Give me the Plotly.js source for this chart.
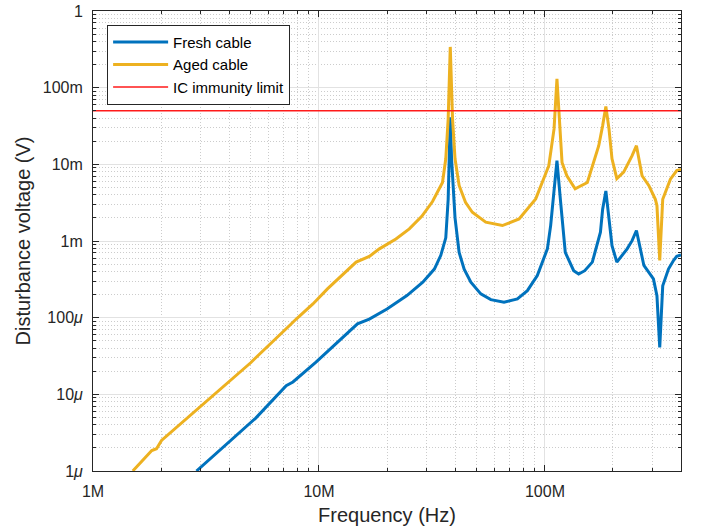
<!DOCTYPE html>
<html>
<head>
<meta charset="utf-8">
<script src="https://cdn.plot.ly/plotly-3.0.1.min.js"></script>
<style>html,body{margin:0;padding:0;background:#fff;}#chart{width:702px;height:532px;}</style>
</head>
<body>
<div id="chart"></div>
<script>
// Fresh cable
const freqFresh = [2.87e6, 5.0e6, 5.25e6, 7.16e6, 7.67e6, 9.7e6, 14.8e6, 16.7e6, 20e6, 24.5e6, 28.8e6, 32.4e6, 34.6e6, 36.4e6, 37.3e6, 37.7e6, 38.1e6, 38.6e6, 39.4e6, 40.0e6, 41.7e6, 43.9e6, 47e6, 52e6, 57.6e6, 65.9e6, 75.5e6, 83.6e6, 92.5e6, 102.5e6, 106e6, 109.7e6, 113e6, 117e6, 121e6, 123e6, 134e6, 141e6, 150e6, 162e6, 176e6, 180e6, 186e6, 192e6, 198e6, 208e6, 231e6, 243e6, 254e6, 274e6, 282e6, 302e6, 313e6, 322e6, 332e6, 352e6, 371e6, 383e6, 400e6];
const voltFresh = [1.0e-6, 4.3e-6, 4.9e-6, 1.3e-5, 1.45e-5, 2.63e-5, 8.3e-5, 9.6e-5, 1.3e-4, 1.94e-4, 2.9e-4, 4.3e-4, 6.5e-4, 1.1e-3, 3.5e-3, 0.012, 0.041, 0.012, 3.5e-3, 2.0e-3, 7.1e-4, 4.3e-4, 2.9e-4, 2.04e-4, 1.72e-4, 1.59e-4, 1.76e-4, 2.25e-4, 3.54e-4, 7.9e-4, 1.6e-3, 4.3e-3, 0.0112, 3.5e-3, 1.3e-3, 7.1e-4, 4.1e-4, 3.7e-4, 4.1e-4, 5.3e-4, 1.3e-3, 2.6e-3, 4.5e-3, 1.94e-3, 8.7e-4, 5.3e-4, 7.9e-4, 1.01e-3, 1.37e-3, 4.8e-4, 4.3e-4, 3.2e-4, 1.94e-4, 4.1e-5, 2.6e-4, 4.3e-4, 5.6e-4, 6.3e-4, 6.6e-4];

// Aged cable
const freqAged = [1.50e6, 1.82e6, 1.91e6, 2.01e6, 5.0e6, 5.25e6, 7.41e6, 7.93e6, 9.4e6, 10.9e6, 14.6e6, 16.7e6, 18.5e6, 21.9e6, 25.1e6, 28.5e6, 31.8e6, 35.2e6, 36.4e6, 37.3e6, 38.1e6, 39.0e6, 40.0e6, 41.7e6, 44.5e6, 47.7e6, 54.7e6, 64.8e6, 76.8e6, 91e6, 104e6, 109.7e6, 113e6, 115.6e6, 119e6, 125e6, 136e6, 154e6, 173e6, 180e6, 186e6, 192e6, 198e6, 208e6, 223e6, 243e6, 254e6, 269e6, 288e6, 308e6, 313e6, 322e6, 332e6, 359e6, 383e6, 400e6];
const voltAged = [1.0e-6, 1.85e-6, 1.95e-6, 2.5e-6, 2.6e-5, 3.0e-5, 7.9e-5, 9.6e-5, 1.51e-4, 2.37e-4, 5.3e-4, 6.3e-4, 7.9e-4, 1.06e-3, 1.44e-3, 2.1e-3, 3.27e-3, 5.8e-3, 0.0118, 0.039, 0.34, 0.039, 0.0118, 5.3e-3, 3.2e-3, 2.37e-3, 1.76e-3, 1.59e-3, 1.94e-3, 3.54e-3, 9.6e-3, 0.029, 0.13, 0.039, 0.0106, 7.1e-3, 4.8e-3, 5.8e-3, 0.0175, 0.032, 0.057, 0.029, 0.0118, 6.5e-3, 7.9e-3, 0.013, 0.0175, 7.1e-3, 5.3e-3, 3.5e-3, 2.9e-3, 5.6e-4, 3.5e-3, 6.4e-3, 8.3e-3, 8.6e-3];

// IC immunity limit
const limitFreq = [1e6, 4.1e8];
const limitVolt = [0.05, 0.05];

// Tick labels
const xTickVals = [1e6, 1e7, 1e8];
const xTickText = ['1M', '10M', '100M'];
const yTickVals = [1e-6, 1e-5, 1e-4, 1e-3, 1e-2, 1e-1, 1];
const yTickText = ['1<i>μ</i>', '10<i>μ</i>', '100<i>μ</i>', '1m', '10m', '100m', '1'];

function minorVals(lo, hi) {
  const out = [];
  for (let d = lo; d < hi; d++) for (let m = 2; m <= 9; m++) out.push(m * Math.pow(10, d));
  return out;
}

const axisColor = '#262626';
const traces = [
  {x: freqFresh, y: voltFresh, type: 'scatter', mode: 'lines', name: 'Fresh cable', line: {color: '#0072BD', width: 3}},
  {x: freqAged, y: voltAged, type: 'scatter', mode: 'lines', name: 'Aged cable', line: {color: '#EDB120', width: 3}},
  {x: limitFreq, y: limitVolt, type: 'scatter', mode: 'lines', name: 'IC immunity limit', line: {color: '#FF1A1A', width: 1.6}}
];

const common = {
  type: 'log', showline: true, linecolor: axisColor, linewidth: 1, mirror: 'ticks',
  ticks: 'inside', ticklen: 6, tickcolor: axisColor, tickwidth: 1,
  showgrid: true, gridcolor: '#e2e2e2', gridwidth: 1, zeroline: false,
  tickfont: {size: 16, color: axisColor}
};
const minorCommon = {showgrid: true, gridcolor: '#cccccc', griddash: '1px,2px', gridwidth: 1, ticks: 'inside', ticklen: 3, tickcolor: axisColor};

const layout = {
  width: 702, height: 532,
  margin: {l: 93, r: 21, t: 11, b: 61},
  paper_bgcolor: '#ffffff', plot_bgcolor: '#ffffff',
  font: {family: '"Liberation Sans", Arial, sans-serif', color: axisColor, size: 16},
  showlegend: true,
  xaxis: Object.assign({}, common, {
    range: [6, 8.602], tickmode: 'array', tickvals: xTickVals, ticktext: xTickText,
    ticklabelstandoff: 6,
    minor: Object.assign({tickmode: 'array', tickvals: minorVals(6, 9)}, minorCommon),
    title: {text: 'Frequency (Hz)', font: {size: 20, color: axisColor}, standoff: 8}
  }),
  yaxis: Object.assign({}, common, {
    range: [-6, 0], tickmode: 'array', tickvals: yTickVals, ticktext: yTickText,
    ticklabelstandoff: 6,
    minor: Object.assign({tickmode: 'array', tickvals: minorVals(-6, 0)}, minorCommon),
    title: {text: 'Disturbance voltage (V)', font: {size: 20, color: axisColor}, standoff: 6}
  }),
  legend: {
    x: 0.024, y: 0.97, xanchor: 'left', yanchor: 'top',
    bgcolor: '#ffffff', bordercolor: axisColor, borderwidth: 1,
    font: {size: 15, color: '#000000'}, itemwidth: 55, tracegroupgap: 0
  }
};

Plotly.newPlot('chart', traces, layout, {displayModeBar: false, staticPlot: true});
</script>
</body>
</html>
